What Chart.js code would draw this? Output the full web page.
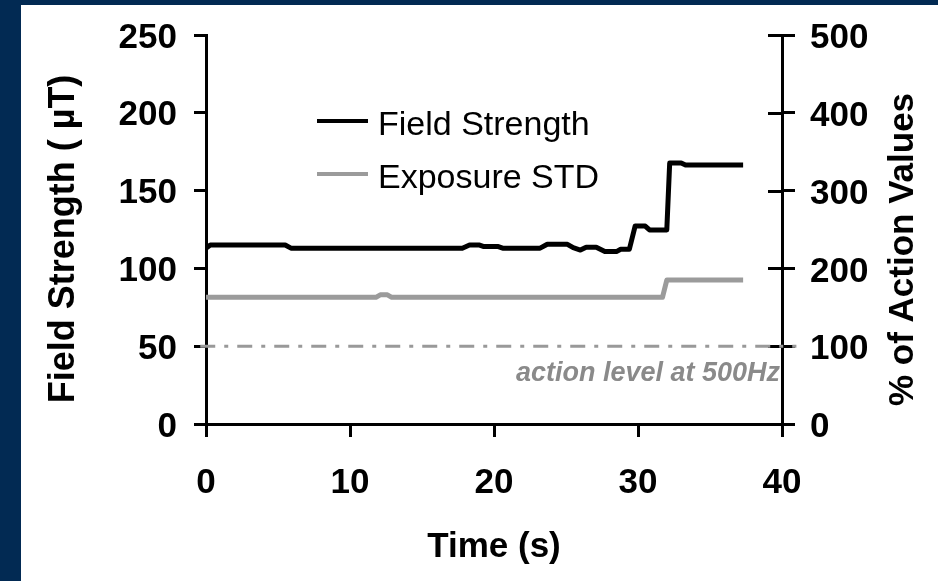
<!DOCTYPE html>
<html>
<head>
<meta charset="utf-8">
<script src="https://cdn.jsdelivr.net/npm/chart.js@4.4.1/dist/chart.umd.min.js"></script>
<style>
  html, body { margin: 0; padding: 0; background: #022a53; overflow: hidden; }
  #wrap { position: absolute; left: 21px; top: 5px; width: 917px; height: 576px; background: #fff; }
  canvas { display: block; }
</style>
</head>
<body>
<div id="wrap"><canvas id="chart" width="917" height="576"></canvas></div>
<script>
// field strength trace (µT) against time (s)
const fieldTime = [0, 0.3, 5.5, 5.9, 17.8, 18.3, 19.0, 19.3, 20.3, 20.6, 23.2, 23.7, 25.1, 25.5, 26.0, 26.4, 27.1, 27.7, 28.5, 28.8, 29.4, 29.8, 30.5, 30.8, 32.0, 32.2, 33.0, 33.3, 37.3];
const fieldValues = [113, 115, 115, 113, 113, 115, 115, 114, 114, 113, 113, 115.5, 115.5, 113.3, 111.8, 113.6, 113.6, 110.8, 110.8, 112.3, 112.3, 127.2, 127.2, 124.7, 124.7, 167.7, 167.7, 166.4, 166.4];

// exposure standard trace
const stdTime = [0, 11.8, 12.1, 12.6, 12.9, 31.7, 32.0, 37.3];
const stdValues = [81.4, 81.4, 83, 83, 81.4, 81.4, 92.5, 92.5];

// action level at 500Hz
const actionTime = [-0.4, 41];
const actionValues = [50, 50];

const xTicks = [0, 10, 20, 30, 40];
const yTicks = [0, 50, 100, 150, 200, 250];
const y2Ticks = [0, 100, 200, 300, 400, 500];

const seriesNames = ['Field Strength', 'Exposure STD'];
const seriesColors = ['#000000', '#9b9b9b'];

const FONT = "'Liberation Sans', Arial, sans-serif";
Chart.defaults.font.family = FONT;
Chart.defaults.color = '#000';

const pts = (xs, ys) => xs.map((x, i) => ({ x, y: ys[i] }));

const extras = {
  id: 'extras',
  beforeDatasetsDraw(chart) {
    // right axis ticks cross the axis line
    const { ctx } = chart;
    const y2 = chart.scales.y2;
    ctx.save();
    ctx.strokeStyle = '#000';
    ctx.lineWidth = 3;
    y2.ticks.forEach((t, i) => {
      const py = Math.round(y2.getPixelForTick(i)) + 0.5;
      ctx.beginPath();
      ctx.moveTo(y2.left - 14, py);
      ctx.lineTo(y2.left, py);
      ctx.stroke();
    });
    ctx.restore();
  },
  afterDraw(chart) {
    const { ctx, chartArea } = chart;
    const y = chart.scales.y;
    ctx.save();

    // legend
    const lx = chartArea.left + 111;
    const rows = [chartArea.top + 86, chartArea.top + 139];
    ctx.font = `34px ${FONT}`;
    ctx.textBaseline = 'alphabetic';
    ctx.textAlign = 'left';
    rows.forEach((ry, i) => {
      ctx.strokeStyle = seriesColors[i];
      ctx.lineWidth = 4;
      ctx.beginPath();
      ctx.moveTo(lx, ry);
      ctx.lineTo(lx + 51, ry);
      ctx.stroke();
      ctx.fillStyle = '#000';
      ctx.fillText(seriesNames[i], lx + 61, ry + 14);
    });

    // action level note
    ctx.font = `italic bold 27px ${FONT}`;
    ctx.fillStyle = '#8a8a8a';
    ctx.textAlign = 'right';
    ctx.fillText('action level at 500Hz', chartArea.right - 2, y.getPixelForValue(50) + 35);

    // axis titles, both read bottom to top
    ctx.fillStyle = '#000';
    ctx.textAlign = 'center';
    ctx.font = `bold 36px ${FONT}`;
    ctx.save();
    ctx.translate(52.5, 234);
    ctx.rotate(-Math.PI / 2);
    ctx.fillText('Field Strength ( µT)', 0, 0);
    ctx.restore();
    ctx.font = `bold 35px ${FONT}`;
    ctx.save();
    ctx.translate(892, 244.5);
    ctx.rotate(-Math.PI / 2);
    ctx.fillText('% of Action Values', 0, 0);
    ctx.restore();

    ctx.restore();
  }
};

const axisGrid = { drawOnChartArea: false, color: '#000', lineWidth: 3 };
const tickFont = { size: 35, weight: 'bold' };
const noPad = (s) => { s.paddingTop = 0; s.paddingBottom = 0; s.paddingLeft = 0; s.paddingRight = 0; };

new Chart(document.getElementById('chart'), {
  type: 'line',
  data: {
    datasets: [
      {
        label: seriesNames[0],
        data: pts(fieldTime, fieldValues),
        borderColor: seriesColors[0],
        borderWidth: 5,
        pointRadius: 0,
        tension: 0,
        borderJoinStyle: 'round',
        yAxisID: 'y',
      },
      {
        label: seriesNames[1],
        data: pts(stdTime, stdValues),
        borderColor: seriesColors[1],
        borderWidth: 5,
        pointRadius: 0,
        tension: 0,
        borderJoinStyle: 'round',
        yAxisID: 'y',
      },
      {
        label: 'action level',
        data: pts(actionTime, actionValues),
        borderColor: '#999999',
        borderWidth: 3,
        borderDash: [15, 9, 4, 9],
        pointRadius: 0,
        clip: false,
        yAxisID: 'y',
      },
    ],
  },
  options: {
    responsive: false,
    animation: false,
    devicePixelRatio: 1,
    layout: { padding: { top: 30, left: 0, right: 0, bottom: 0 } },
    plugins: { legend: { display: false }, tooltip: { enabled: false } },
    scales: {
      x: {
        type: 'linear',
        min: 0,
        max: 40,
        afterBuildTicks: (s) => { s.ticks = xTicks.map((v) => ({ value: v })); },
        afterFit: (s) => { s.height = 157; noPad(s); },
        grid: { ...axisGrid, tickLength: 13 },
        border: { color: '#000', width: 3 },
        ticks: { font: tickFont, padding: 25, maxRotation: 0 },
        title: { display: true, text: 'Time (s)', font: { size: 35, weight: 'bold' }, padding: { top: 0, bottom: 13 } },
      },
      y: {
        position: 'left',
        min: 0,
        max: 250,
        afterBuildTicks: (s) => { s.ticks = yTicks.map((v) => ({ value: v })); },
        afterFit: (s) => { s.width = 185; noPad(s); },
        grid: { ...axisGrid, tickLength: 12 },
        border: { color: '#000', width: 3 },
        ticks: { font: tickFont, padding: 17, labelOffset: 3 },
      },
      y2: {
        position: 'right',
        min: 0,
        max: 500,
        afterBuildTicks: (s) => { s.ticks = y2Ticks.map((v) => ({ value: v })); },
        afterFit: (s) => { s.width = 156; noPad(s); },
        grid: { ...axisGrid, tickLength: 13 },
        border: { color: '#000', width: 3 },
        ticks: { font: tickFont, padding: 15, labelOffset: 3.5 },
      },
    },
  },
  plugins: [extras],
});
</script>
</body>
</html>
